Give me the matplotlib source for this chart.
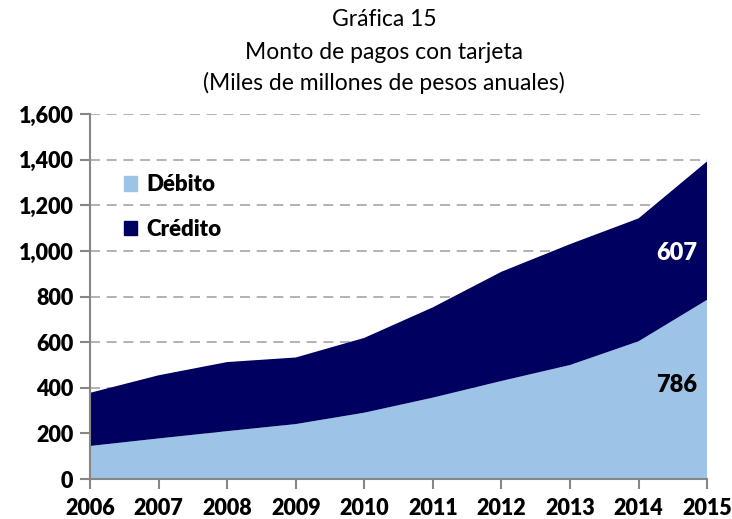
import numpy as np
import matplotlib
matplotlib.use("Agg")
import matplotlib.pyplot as plt
from matplotlib.patches import Patch

plt.rcParams['font.family'] = ['Lato', 'DejaVu Sans']

# Datos (miles de millones de pesos)
years = [2006, 2007, 2008, 2009, 2010, 2011, 2012, 2013, 2014, 2015]
debito = [145, 178, 210, 241, 291, 357, 430, 500, 604, 786]
credito = [233, 277, 303, 292, 328, 396, 479, 530, 539, 607]
yticks = [0, 200, 400, 600, 800, 1000, 1200, 1400, 1600]

c_deb = '#9DC3E6'
c_cre = '#000060'

fig = plt.figure(figsize=(7.32, 5.19), dpi=100)
ax = fig.add_axes([0.123, 0.077, 0.843, 0.703])

ax.stackplot(years, debito, credito, colors=[c_deb, c_cre], linewidth=0)

ax.set_xlim(years[0], years[-1])
ax.set_ylim(0, 1600)
ax.set_xticks(years)
ax.set_yticks(yticks)
ax.set_yticklabels([f'{v:,}' for v in yticks])

for v in yticks[1:]:
    ax.axhline(v, color='#A6A6A6', lw=1.2, ls=(0, (6, 4)), zorder=0)

for s in ['top', 'right']:
    ax.spines[s].set_visible(False)
for s in ['left', 'bottom']:
    ax.spines[s].set_color('#868686')
    ax.spines[s].set_linewidth(1.5)

ax.tick_params(axis='both', colors='#868686', width=1.5, length=7, direction='out')
ax.tick_params(axis='y', labelcolor='black', labelsize=15.5, pad=5)
ax.tick_params(axis='x', labelcolor='black', labelsize=15.5, pad=7)
for lbl in ax.get_xticklabels() + ax.get_yticklabels():
    lbl.set_fontweight('heavy')

# etiquetas de 2015
ax.text(years[-1] - 0.15, 990, f'{credito[-1]}',
        color='white', fontsize=17, fontweight='heavy', ha='right', va='center')
ax.text(years[-1] - 0.15, 412, f'{debito[-1]}',
        color='black', fontsize=17, fontweight='heavy', ha='right', va='center')

handles = [Patch(color=c_deb, label='Débito'), Patch(color=c_cre, label='Crédito')]
leg = ax.legend(handles=handles, loc='upper left', bbox_to_anchor=(0.055, 0.835),
                frameon=False, prop={'weight': 'heavy', 'size': 16},
                handlelength=0.6, handleheight=0.6, handletextpad=0.4,
                labelspacing=1.05, borderpad=0, borderaxespad=0)

fig.text(0.525, 0.963, 'Gráfica 15', ha='center', va='center', fontsize=16.5)
fig.text(0.525, 0.899, 'Monto de pagos con tarjeta', ha='center', va='center', fontsize=16.5)
fig.text(0.525, 0.841, '(Miles de millones de pesos anuales)', ha='center', va='center', fontsize=16.5)

fig.savefig('out.png', dpi=100)
